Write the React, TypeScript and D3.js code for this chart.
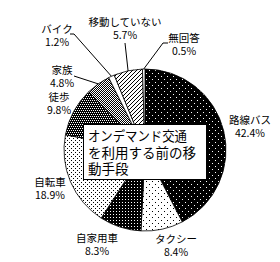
import React from "react";
import * as d3 from "d3";

const categories = ["路線バス", "タクシー", "自家用車", "自転車", "徒歩", "家族", "バイク", "移動していない", "無回答"];
const shares = [42.4, 8.4, 8.3, 18.9, 9.8, 4.8, 1.2, 5.7, 0.5];
const titleLines = ["オンデマンド交通", "を利用する前の移", "動手段"];

// pattern id for each category (style)
const fills = ["url(#pBus)", "url(#pTaxi)", "url(#pCar)", "url(#pBike)", "url(#pWalk)", "url(#pFamily)", "#fff", "url(#pHatch)", "#fff"];

// label layout: name baseline anchor and optional leader start points
const labelLayout: { x: number; y: number; leader?: [number, number][] }[] = [
  { x: 250, y: 124 },
  { x: 176, y: 243 },
  { x: 97, y: 242 },
  { x: 50, y: 186 },
  { x: 59, y: 101 },
  { x: 62, y: 74, leader: [[74, 76]] },
  { x: 57, y: 33, leader: [[70, 34], [74, 34]] },
  { x: 125, y: 26, leader: [[125, 43]] },
  { x: 184, y: 42, leader: [[168, 43], [163, 43]] },
];

const W = 280;
const H = 262;
const cx = 145;
const cy = 150;
const R = 81;

function Px({ pts, color }: { pts: [number, number][]; color: string }) {
  return (
    <>
      {pts.map(([x, y], i) => (
        <rect key={i} x={x} y={y} width={1} height={1} fill={color} />
      ))}
    </>
  );
}

export default function App() {
  const pie = d3
    .pie<number>()
    .sort(null)
    .value((d) => d)
    .startAngle(0)
    .endAngle(2 * Math.PI);
  const arcs = pie(shares);
  const arc = d3.arc<d3.PieArcDatum<number>>().innerRadius(0).outerRadius(R);
  const font = "'Noto Sans CJK JP', 'Noto Sans', sans-serif";

  return (
    <svg
      width={W}
      height={H}
      style={{ position: "absolute", left: 0, top: 0, background: "#fff" }}
    >
      <defs>
        <pattern id="pBus" width={6} height={6} patternUnits="userSpaceOnUse" shapeRendering="crispEdges">
          <rect width={6} height={6} fill="#000" />
          <Px pts={[[1, 1], [4, 4]]} color="#fff" />
        </pattern>
        <pattern id="pTaxi" width={6} height={6} patternUnits="userSpaceOnUse" shapeRendering="crispEdges">
          <rect width={6} height={6} fill="#fff" />
          <Px pts={[[1, 1], [4, 4]]} color="#000" />
        </pattern>
        <pattern id="pCar" width={3} height={3} patternUnits="userSpaceOnUse" shapeRendering="crispEdges">
          <rect width={3} height={3} fill="#000" />
          <Px pts={[[1, 1]]} color="#fff" />
        </pattern>
        <pattern id="pBike" width={4} height={4} patternUnits="userSpaceOnUse" shapeRendering="crispEdges">
          <rect width={4} height={4} fill="#fff" />
          <Px pts={[[0, 0], [2, 2]]} color="#000" />
        </pattern>
        <pattern id="pWalk" width={4} height={4} patternUnits="userSpaceOnUse" shapeRendering="crispEdges">
          <rect width={4} height={4} fill="#000" />
          <Px pts={[[0, 0], [2, 0], [1, 2], [3, 2]]} color="#fff" />
        </pattern>
        <pattern id="pFamily" width={2} height={2} patternUnits="userSpaceOnUse" shapeRendering="crispEdges">
          <rect width={2} height={2} fill="#fff" />
          <Px pts={[[0, 0], [1, 1]]} color="#000" />
        </pattern>
        <pattern id="pHatch" width={4} height={4} patternUnits="userSpaceOnUse" shapeRendering="crispEdges">
          <rect width={4} height={4} fill="#fff" />
          <Px pts={[[3, 0], [2, 1], [1, 2], [0, 3]]} color="#000" />
        </pattern>
      </defs>

      <g transform={`translate(${cx},${cy})`}>
        {arcs.map((a, i) => (
          <path key={i} d={arc(a) || ""} fill={fills[i]} stroke="#000" strokeWidth={0.8} />
        ))}
      </g>

      {arcs.map((a, i) => {
        const lay = labelLayout[i];
        if (!lay.leader) return null;
        const mid = (a.startAngle + a.endAngle) / 2;
        const ex = cx + R * Math.sin(mid);
        const ey = cy - R * Math.cos(mid);
        const pts = [...lay.leader, [ex, ey]];
        const line = d3.line()(pts as [number, number][]);
        return <path key={"l" + i} d={line || ""} fill="none" stroke="#000" strokeWidth={1} />;
      })}

      {categories.map((c, i) => {
        const lay = labelLayout[i];
        return (
          <text key={"t" + i} fontFamily={font} fontSize={10.5} fill="#000" textAnchor="middle" x={lay.x} y={lay.y}>
            <tspan x={lay.x} y={lay.y}>{c}</tspan>
            <tspan x={lay.x} y={lay.y + 13}>{shares[i].toFixed(1)}%</tspan>
          </text>
        );
      })}

      <rect x={83.5} y={124.5} width={123} height={55} fill="#fff" stroke="#000" strokeWidth={1} />
      <text x={88} y={141} fontFamily={font} fontSize={13.5} fill="#000">
        {titleLines.map((t, i) => (
          <tspan
            key={"h" + i}
            x={88}
            y={141 + i * 16.5}
            {...(i === 0 ? { textLength: 99, lengthAdjust: "spacingAndGlyphs" } : {})}
          >
            {t}
          </tspan>
        ))}
      </text>
    </svg>
  );
}
